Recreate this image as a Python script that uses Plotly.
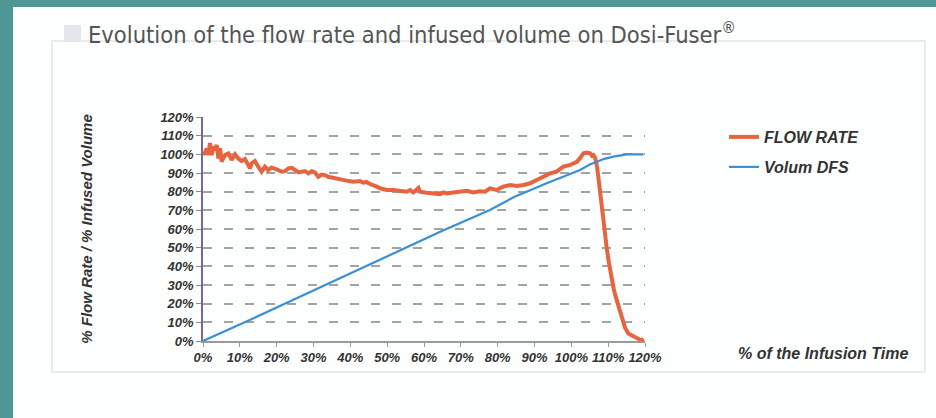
import plotly.graph_objects as go

# ---------------- data ----------------
flow_time = [0, 0.5, 1.0, 1.45, 1.9, 2.35, 2.8, 3.26, 3.71, 4.17, 4.62, 5.07, 5.97, 6.88,
             7.78, 8.69, 9.59, 10.5, 11.4, 12.3, 12.76, 13.2, 14.1, 15.0, 15.9, 16.8, 17.7,
             18.6, 19.5, 20.45, 21.4, 22.3, 23.2, 24.1, 25.0, 25.9, 26.8, 27.7, 28.6, 29.5,
             30.4, 31.3, 32.2, 33.1, 34.0, 35.8, 37.2, 39.0, 40.8, 42.6, 43.5, 44.4, 45.3,
             46.2, 47.2, 48.1, 49.9, 51.7, 53.5, 55.3, 56.2, 57.1, 58.5, 58.9, 60.7, 62.5,
             64.3, 65.3, 66.2, 68.0, 69.8, 71.6, 73.4, 75.2, 76.6, 77.9, 79.7, 81.5, 83.4,
             85.2, 87.0, 88.8, 90.6, 92.4, 94.2, 96.0, 97.8, 99.7, 101.5, 102.3, 103.3,
             104.2, 105.1, 105.6, 106.0, 106.5, 107.0, 107.5, 108.0, 108.5, 109.0, 109.6,
             110.2, 110.8, 111.5, 112.3, 113.0, 113.8, 114.6, 115.5, 116.8, 118.0, 119.0,
             119.6]
flow_rate = [100, 100.5, 103.2, 99.6, 106.0, 99.6, 104.1, 102.3, 105.0, 97.8, 103.2, 96.1,
             99.6, 100.5, 97.0, 100.0, 97.8, 96.4, 97.5, 94.3, 92.5, 95.2, 96.4, 93.4, 90.7,
             93.4, 91.6, 93.0, 92.5, 91.6, 90.7, 91.0, 92.5, 92.8, 91.6, 90.3, 90.7, 91.0,
             89.8, 91.0, 90.3, 88.0, 89.2, 88.9, 88.0, 87.1, 86.6, 85.9, 85.3, 85.7, 84.8,
             85.2, 84.1, 83.6, 82.7, 81.8, 80.9, 80.9, 80.5, 80.0, 80.9, 79.6, 82.0, 80.0,
             79.4, 79.1, 78.7, 79.6, 79.1, 79.6, 80.0, 80.5, 79.6, 80.2, 80.0, 81.8, 80.9,
             82.7, 83.6, 83.0, 83.6, 84.5, 86.3, 88.1, 89.8, 90.7, 93.4, 94.3, 96.0, 97.8,
             100.5, 100.9, 100.5, 99.2, 99.6, 98.0, 93.0, 85.0, 76.0, 67.0, 58.0, 50.0,
             42.0, 35.0, 28.0, 22.0, 17.0, 12.0, 7.0, 4.0, 2.5, 1.5, 0.3, 1.2]

volume_time = [0, 13, 26, 40, 53.5, 65, 77.9, 84.3, 93.3, 102.4, 105, 107, 109, 111.4,
               113, 115, 119.6]
volume = [0, 11.5, 23.5, 36.3, 48.7, 59.0, 70.2, 77.0, 84.5, 91.6, 94.5, 96.2, 97.6,
          98.8, 99.5, 100, 100]

y_ticks = [0, 10, 20, 30, 40, 50, 60, 70, 80, 90, 100, 110, 120]
y_tick_labels = ["0%", "10%", "20%", "30%", "40%", "50%", "60%", "70%", "80%", "90%",
                 "100%", "110%", "120%"]
x_ticks = [0, 10, 20, 30, 40, 50, 60, 70, 80, 90, 100, 110, 120]
x_tick_labels = ["0%", "10%", "20%", "30%", "40%", "50%", "60%", "70%", "80%", "90%",
                 "100%", "110%", "120%"]

# ---------------- layout geometry (screen pixels) ----------------
W, H = 936, 418
L, R, T, B = 203, 645, 117, 341   # plot area
TEAL = "#4f9696"


def px(x):
    return (x - L) / (R - L)


def py(y):
    return (B - y) / (B - T)


FONT = "Liberation Sans, Arial, sans-serif"
NARROW = "Liberation Sans Narrow, Arial Narrow, DejaVu Sans Condensed, sans-serif"
TXT = "#333333"

fig = go.Figure()
fig.add_trace(go.Scatter(
    x=flow_time, y=flow_rate, mode="lines", name="FLOW RATE",
    line=dict(color="#e8643f", width=4), legend="legend"))
fig.add_trace(go.Scatter(
    x=volume_time, y=volume, mode="lines", name="Volum DFS",
    line=dict(color="#3b8fd4", width=2.2), legend="legend2"))

shapes = [
    # teal frame of the slide
    dict(type="rect", xref="paper", yref="paper", x0=px(-5), x1=px(13), y0=py(H + 5),
         y1=py(-5), fillcolor=TEAL, line=dict(width=0), layer="below"),
    dict(type="rect", xref="paper", yref="paper", x0=px(-5), x1=px(W + 5), y0=py(7),
         y1=py(-5), fillcolor=TEAL, line=dict(width=0), layer="below"),
    # panel box
    dict(type="rect", xref="paper", yref="paper", x0=px(52), x1=px(925), y0=py(372), y1=py(41),
         fillcolor="rgba(0,0,0,0)", line=dict(color="#e3e6e6", width=1.5), layer="below"),
    # grey square before title
    dict(type="rect", xref="paper", yref="paper", x0=px(64), x1=px(81), y0=py(42), y1=py(25),
         fillcolor="#e3e7eb", line=dict(width=0), layer="below"),
]

annotations = [
    dict(text="Evolution of the flow rate and infused volume on Dosi-Fuser<sup>®</sup>",
         xref="paper", yref="paper", x=px(86), y=py(33), xanchor="left", yanchor="middle",
         showarrow=False, font=dict(family=NARROW, size=23.5, color="#555555")),
    dict(text="% of the Infusion Time", xref="paper", yref="paper", x=px(736), y=py(353),
         xanchor="left", yanchor="middle", showarrow=False,
         font=dict(family=FONT, size=16, color=TXT, weight="bold", style="italic")),
]

fig.update_layout(
    width=W, height=H,
    margin=dict(l=L, r=W - R, t=T, b=H - B),
    paper_bgcolor="#fdfefe", plot_bgcolor="rgba(0,0,0,0)",
    shapes=shapes, annotations=annotations,
    showlegend=True,
    legend=dict(x=px(724), y=py(137), xanchor="left", yanchor="middle",
                bgcolor="rgba(0,0,0,0)",
                font=dict(family=FONT, size=16, color=TXT, weight="bold", style="italic")),
    legend2=dict(x=px(724), y=py(167), xanchor="left", yanchor="middle",
                 bgcolor="rgba(0,0,0,0)",
                 font=dict(family=FONT, size=16, color=TXT, weight="bold", style="italic")),
    xaxis=dict(range=[0, 120], tickvals=x_ticks, ticktext=x_tick_labels,
               showline=True, linecolor="#9a9a9a", linewidth=1.5,
               ticks="outside", ticklen=4, tickcolor="#9a9a9a", tickwidth=1,
               showgrid=False, zeroline=False,
               tickfont=dict(family=FONT, size=13, color=TXT, weight="bold", style="italic")),
    yaxis=dict(range=[0, 120], tickvals=y_ticks, ticktext=y_tick_labels,
               showline=True, linecolor="#7468a0", linewidth=1.5,
               ticks="outside", ticklen=5, tickcolor="#8a8a8a", tickwidth=1,
               showgrid=True, gridcolor="#a3a3a3", gridwidth=1.5, griddash="9px,12px",
               zeroline=False,
               title=dict(text="% Flow Rate / % Infused Volume", standoff=64,
                          font=dict(family=FONT, size=15, color=TXT, weight="bold",
                                    style="italic")),
               tickfont=dict(family=FONT, size=13, color=TXT, weight="bold", style="italic")),
)

# remove the page margin so the figure fills the window exactly
fig.write_html("out.html", config={"displayModeBar": False},
               post_script="document.body.style.margin='0';")
